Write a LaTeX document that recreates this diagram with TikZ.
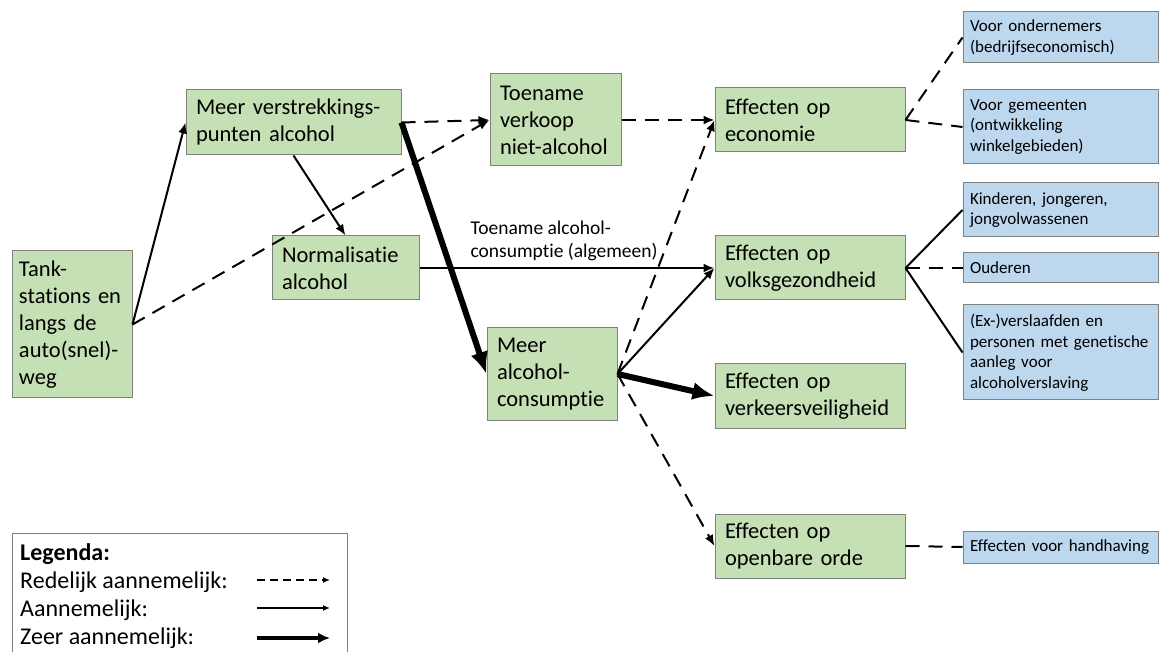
\documentclass[tikz,border=0pt]{standalone}
\usepackage{fontspec}
\setmainfont{Carlito}[Ligatures=CommonOff]
\usepackage{tikz}
\usetikzlibrary{arrows.meta}
\definecolor{groenvak}{RGB}{197,224,180}
\definecolor{blauwvak}{RGB}{189,215,238}
\definecolor{rand}{RGB}{125,130,125}

\begin{document}
\begin{tikzpicture}[x=1pt,y=-1pt,>={Latex[length=11pt,width=9pt]},
  groen/.style={draw=rand,fill=groenvak,line width=1pt,inner xsep=10pt,inner ysep=0pt,align=left,font=\fontsize{22.5}{27}\selectfont},
  blauw/.style={draw=rand,fill=blauwvak,line width=1pt,inner xsep=7pt,inner ysep=0pt,align=left,text width=181pt,font=\fontsize{17}{20.5}\selectfont},
  redelijk/.style={line width=2pt,dash pattern=on 14pt off 9pt},
  aannemelijk/.style={line width=2pt},
  zeer/.style={line width=6pt,-{Latex[length=22pt,width=18pt]}}]

\useasboundingbox (0,0) rectangle (1160,652);
\clip (0,0) rectangle (1160,652);

\node[groen,inner xsep=7pt,text width=106pt,minimum height=147pt] (tank) at (72,324.5) {Tank-\\stations en\\langs de\\auto(snel)-\\weg};
\node[groen,text width=195pt,minimum height=65pt] (punten) at (293.5,122.5) {Meer verstrekkings-\\punten alcohol};
\node[groen,text width=127pt,minimum height=64pt] (norm) at (345.5,268) {Normalisatie\\alcohol};
\node[groen,text width=111pt,minimum height=92pt] (verkoop) at (555.5,120) {Toename\\verkoop\\niet-alcohol};
\node[groen,text width=110pt,minimum height=92pt] (meer) at (552,374) {Meer\\alcohol-\\consumptie};
\node[groen,text width=170pt,minimum height=64pt] (eco) at (810,120) {Effecten op\\economie};
\node[groen,text width=170pt,minimum height=64pt] (gezond) at (810,268) {Effecten op\\volksgezondheid};
\node[groen,text width=170pt,minimum height=64pt] (verkeer) at (810,396) {Effecten op\\verkeersveiligheid};
\node[groen,text width=170pt,minimum height=64pt] (orde) at (810,546) {Effecten op\\openbare orde};

\node[blauw,minimum height=51pt] (ondernemers) at (1060.5,37.5) {Voor ondernemers\\(bedrijfseconomisch)};
\node[blauw,minimum height=74pt] (gemeenten) at (1060.5,127) {Voor gemeenten\\(ontwikkeling\\winkelgebieden)};
\node[blauw,minimum height=54pt] (jeugd) at (1060.5,210) {Kinderen, jongeren,\\jongvolwassenen};
\node[blauw,minimum height=30pt] (ouderen) at (1060.5,268) {Ouderen};
\node[blauw,minimum height=95pt] (verslaafden) at (1060.5,352.5) {(Ex-)verslaafden en\\personen met genetische\\aanleg voor\\alcoholverslaving};
\node[blauw,minimum height=32pt] (handhaving) at (1060.5,547) {Effecten voor handhaving};

\draw[->,aannemelijk] (tank.east) -- (punten.west);
\draw[->,redelijk] (tank.east) -- (verkoop.west);
\draw[->,redelijk] (punten.east) -- (verkoop.west);
\draw[->,aannemelijk] (punten.south) -- (norm.north);
\draw[zeer] (punten.east) -- (meer.west);
\draw[->,aannemelijk,line width=2.5pt] (norm.east) -- node[above=6pt,pos=0.49,inner sep=0pt,align=left,font=\fontsize{19.5}{23}\selectfont] (toename) {Toename alcohol-\\consumptie (algemeen)} (gezond.west);
\draw[->,redelijk] (verkoop.east) -- (eco.west);
\draw[->,redelijk] (meer.east) -- (eco.west);
\draw[->,aannemelijk] (meer.east) -- (gezond.west);
\draw[zeer] (meer.east) -- (verkeer.west);
\draw[->,redelijk] (meer.east) -- (orde.west);

\draw[redelijk] (eco.east) -- (ondernemers.west);
\draw[redelijk] (eco.east) -- (gemeenten.west);
\draw[aannemelijk] (gezond.east) -- (jeugd.west);
\draw[redelijk] (gezond.east) -- (ouderen.west);
\draw[aannemelijk] (gezond.east) -- (verslaafden.west);
\draw[redelijk] (orde.east) -- (handhaving.west);

\node[draw=rand,line width=1pt,anchor=north west,minimum width=335pt,minimum height=130pt] (legenda) at (12,533) {};
\node[anchor=north west,align=left,inner sep=0pt,font=\fontsize{24}{28}\selectfont] (legendatekst) at (20,543) {\textbf{Legenda:}\\Redelijk aannemelijk:\\Aannemelijk:\\Zeer aannemelijk:};
\coordinate (r1) at (257,580);
\coordinate (r2) at (330,580);
\coordinate (a1) at (257,608);
\coordinate (a2) at (330,608);
\coordinate (z1) at (257,638);
\coordinate (z2) at (330,638);
\draw[line width=1.5pt,dash pattern=on 8pt off 5pt,-{Latex[length=7pt,width=6pt]}] (r1) -- (r2);
\draw[line width=1.5pt,-{Latex[length=7pt,width=6pt]}] (a1) -- (a2);
\draw[line width=4pt,-{Latex[length=12pt,width=11pt]}] (z1) -- (z2);

\end{tikzpicture}
\end{document}
